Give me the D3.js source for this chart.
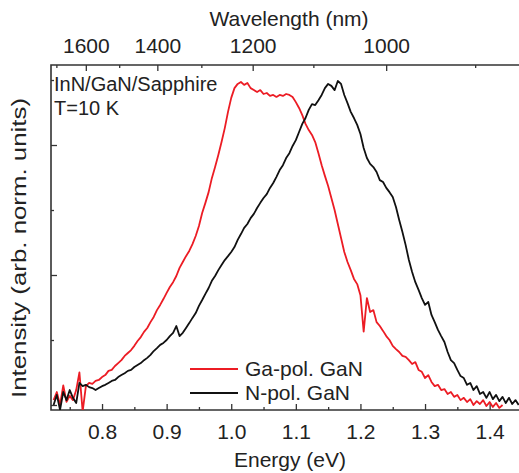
<!DOCTYPE html>
<html>
<head>
<meta charset="utf-8">
<script src="https://cdn.jsdelivr.net/npm/d3@7"></script>
<style>
  html, body { margin: 0; padding: 0; background: #fff; }
  svg text { font-family: "Liberation Sans", Arial, Helvetica, sans-serif; fill: #222; }
</style>
</head>
<body>
<svg id="chart" width="519" height="473"></svg>
<script>
// ---------------- DATA ----------------
const energyEV = [
 0.725,0.730,0.735,0.740,0.745,0.750,0.755,0.760,0.765,0.770,0.775,0.780,0.785,0.790,0.795,
 0.800,0.805,0.810,0.815,0.820,0.825,0.830,0.835,0.840,0.845,0.850,0.855,0.860,0.865,0.870,
 0.875,0.880,0.885,0.890,0.895,0.900,0.905,0.910,0.915,0.920,0.925,0.930,0.935,0.940,0.945,
 0.950,0.955,0.960,0.965,0.970,0.975,0.980,0.985,0.990,0.995,1.000,1.005,1.010,1.015,1.020,
 1.025,1.030,1.035,1.040,1.045,1.050,1.055,1.060,1.065,1.070,1.075,1.080,1.085,1.090,1.095,
 1.100,1.105,1.110,1.115,1.120,1.125,1.130,1.135,1.140,1.145,1.150,1.155,1.160,1.165,1.170,
 1.175,1.180,1.185,1.190,1.195,1.200,1.205,1.210,1.215,1.220,1.225,1.230,1.235,1.240,1.245,
 1.250,1.255,1.260,1.265,1.270,1.275,1.280,1.285,1.290,1.295,1.300,1.305,1.310,1.315,1.320,
 1.325,1.330,1.335,1.340,1.345,1.350,1.355,1.360,1.365,1.370,1.375,1.380,1.385,1.390,1.395,
 1.400,1.405,1.410,1.415,1.420,1.425,1.430,1.435,1.440,1.445
];

// Ga-polar GaN (red), normalised intensity
const gaPolIntensity = [
 0.015,0.040,0.000,0.060,0.010,0.028,0.015,0.046,0.100,-0.020,0.058,0.068,0.065,0.074,0.077,
 0.086,0.092,0.105,0.108,0.120,0.129,0.138,0.151,0.160,0.169,0.182,0.197,0.209,0.225,0.237,
 0.255,0.271,0.292,0.308,0.326,0.345,0.363,0.378,0.397,0.422,0.440,0.458,0.474,0.495,0.520,
 0.551,0.591,0.622,0.655,0.698,0.732,0.769,0.809,0.852,0.902,0.945,0.975,0.988,0.994,0.985,
 0.991,0.975,0.969,0.963,0.969,0.957,0.960,0.951,0.954,0.948,0.954,0.951,0.957,0.954,0.948,
 0.932,0.914,0.892,0.865,0.846,0.831,0.809,0.775,0.738,0.705,0.674,0.637,0.600,0.557,0.514,
 0.471,0.440,0.415,0.388,0.372,0.338,0.226,0.329,0.286,0.292,0.255,0.243,0.228,0.212,0.200,
 0.182,0.172,0.163,0.151,0.148,0.138,0.126,0.132,0.108,0.102,0.083,0.092,0.071,0.058,0.062,
 0.046,0.049,0.034,0.040,0.025,0.031,0.015,0.022,0.009,0.018,0.000,0.012,0.003,0.015,-0.003,
 0.009,-0.006,0.006,-0.009,0.000
];

// N-polar GaN (black), normalised intensity
const nPolIntensity = [
 0.000,0.031,-0.015,0.040,0.015,0.046,0.022,0.006,0.068,0.058,0.062,0.055,0.052,0.046,0.052,
 0.058,0.062,0.068,0.074,0.077,0.086,0.092,0.098,0.105,0.108,0.117,0.123,0.129,0.138,0.145,
 0.154,0.166,0.175,0.185,0.191,0.200,0.212,0.222,0.243,0.212,0.222,0.237,0.252,0.268,0.283,
 0.305,0.323,0.342,0.360,0.382,0.397,0.415,0.431,0.446,0.458,0.471,0.486,0.508,0.526,0.545,
 0.557,0.575,0.588,0.606,0.622,0.637,0.649,0.668,0.683,0.702,0.723,0.738,0.760,0.775,0.797,
 0.815,0.840,0.865,0.883,0.908,0.926,0.923,0.938,0.954,0.975,0.988,0.982,0.969,0.997,0.988,
 0.954,0.929,0.902,0.883,0.862,0.834,0.791,0.760,0.742,0.732,0.717,0.692,0.686,0.668,0.655,
 0.640,0.609,0.569,0.532,0.492,0.446,0.409,0.378,0.354,0.329,0.308,0.317,0.277,0.255,0.231,
 0.212,0.194,0.163,0.138,0.129,0.108,0.089,0.083,0.062,0.068,0.046,0.058,0.034,0.040,0.022,
 0.040,0.018,0.031,0.012,0.025,0.006,0.022,0.003,0.015,0.000
];

const energyMajorTicks = [0.8, 0.9, 1.0, 1.1, 1.2, 1.3, 1.4];
const energyMinorTicks = [0.75, 0.85, 0.95, 1.05, 1.15, 1.25, 1.35];
const wavelengthMajorTicks = [1600, 1400, 1200, 1000];
const wavelengthMinorTicks = [1700, 1500, 1300, 1100, 900];
const intensityMajorTicks = [0, 0.4, 0.8];
const intensityMinorTicks = [0.2, 0.6, 1.0];

const seriesNames = ["Ga-pol. GaN", "N-pol. GaN"];
const seriesColors = ["#ec1c24", "#111111"];
const annotation = ["InN/GaN/Sapphire", "T=10 K"];

// ---------------- DRAW ----------------
const svg = d3.select("#chart");
const hc = 1239.84; // eV*nm

const x = d3.scaleLinear().domain([0.721, 1.447]).range([51, 520]);
const y = d3.scaleLinear().domain([-0.0154, 1.0462]).range([410, 65]);
const axisColor = "#333";

svg.append("defs").append("clipPath").attr("id", "plotclip")
  .append("rect").attr("x", x.range()[0]).attr("y", y.range()[1])
  .attr("width", x.range()[1] - x.range()[0]).attr("height", y.range()[0] - y.range()[1]);

function styleAxis(g) {
  g.select(".domain").remove();
  g.selectAll(".tick line").attr("stroke", axisColor).attr("stroke-width", 1.3);
  g.selectAll(".tick text").attr("fill", "#222").style("font-size", "21px");
}

// bottom axis
svg.append("g").attr("transform", `translate(0,${y.range()[0]})`)
  .call(d3.axisBottom(x).tickValues(energyMajorTicks).tickSize(-6).tickPadding(14)
    .tickFormat(d3.format(".1f")))
  .call(styleAxis);
svg.append("g").attr("transform", `translate(0,${y.range()[0]})`)
  .call(d3.axisBottom(x).tickValues(energyMinorTicks).tickSize(-3).tickFormat(""))
  .call(styleAxis);

// top axis (wavelength)
svg.append("g").attr("transform", `translate(0,${y.range()[1]})`)
  .call(d3.axisTop(x).tickValues(wavelengthMajorTicks.map(w => hc / w)).tickSize(-6).tickPadding(12)
    .tickFormat(e => String(Math.round(hc / e / 100) * 100)))
  .call(styleAxis);
svg.append("g").attr("transform", `translate(0,${y.range()[1]})`)
  .call(d3.axisTop(x).tickValues(wavelengthMinorTicks.map(w => hc / w)).tickSize(-3).tickFormat(""))
  .call(styleAxis);

// left axis
svg.append("g").attr("transform", `translate(${x.range()[0]},0)`)
  .call(d3.axisLeft(y).tickValues(intensityMajorTicks).tickSize(-6).tickFormat(""))
  .call(styleAxis);
svg.append("g").attr("transform", `translate(${x.range()[0]},0)`)
  .call(d3.axisLeft(y).tickValues(intensityMinorTicks).tickSize(-3).tickFormat(""))
  .call(styleAxis);

// frame (left, top, bottom)
svg.append("path")
  .attr("d", `M${x.range()[1]},${y.range()[1]}H${x.range()[0]}V${y.range()[0]}H${x.range()[1]}`)
  .attr("fill", "none").attr("stroke", axisColor).attr("stroke-width", 1.6);

// curves
const line = d3.line().x(d => x(d[0])).y(d => y(d[1]));
const seriesData = [gaPolIntensity, nPolIntensity].map(vals => vals.map((v, i) => [energyEV[i], v]));
const plot = svg.append("g").attr("clip-path", "url(#plotclip)");
seriesData.forEach((d, i) => {
  plot.append("path").datum(d).attr("d", line)
    .attr("fill", "none").attr("stroke", seriesColors[i])
    .attr("stroke-width", 1.8).attr("stroke-linejoin", "round");
});

// axis titles
svg.append("text").attr("x", 290).attr("y", 467).attr("text-anchor", "middle")
  .style("font-size", "21px").text("Energy (eV)");
svg.append("text").attr("x", 289).attr("y", 26).attr("text-anchor", "middle")
  .style("font-size", "21px").text("Wavelength (nm)");
svg.append("text").attr("transform", "translate(26,248) rotate(-90)").attr("text-anchor", "middle")
  .attr("textLength", 300).attr("lengthAdjust", "spacingAndGlyphs")
  .style("font-size", "21px").text("Intensity (arb. norm. units)");

// annotation
svg.append("text").attr("x", 54).attr("y", 91).style("font-size", "20px").text(annotation[0]);
svg.append("text").attr("x", 54).attr("y", 115).style("font-size", "20px").text(annotation[1]);

// legend
const legY = [369, 393];
seriesNames.forEach((name, i) => {
  svg.append("line").attr("x1", 190).attr("x2", 238).attr("y1", legY[i]).attr("y2", legY[i])
    .attr("stroke", seriesColors[i]).attr("stroke-width", 1.8);
  svg.append("text").attr("x", 245).attr("y", legY[i] + 7).style("font-size", "21px").text(name);
});
</script>
</body>
</html>
